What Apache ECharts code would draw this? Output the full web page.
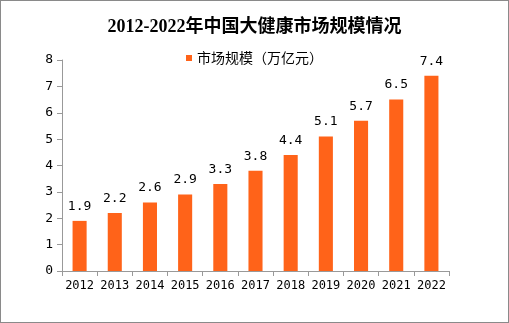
<!DOCTYPE html>
<html>
<head>
<meta charset="utf-8">
<style>
html,body{margin:0;padding:0;background:#fff;}
#c{width:509px;height:323px;box-sizing:border-box;border:1px solid #8a8a8a;}
</style>
<script src="https://cdn.jsdelivr.net/npm/echarts@6/dist/echarts.min.js"></script>
</head>
<body>
<div id="c"></div>
<script>
var categories = ['2012','2013','2014','2015','2016','2017','2018','2019','2020','2021','2022'];
var marketSize = [1.9, 2.2, 2.6, 2.9, 3.3, 3.8, 4.4, 5.1, 5.7, 6.5, 7.4];
var seriesName = '市场规模（万亿元）';
var titleText = '2012-2022年中国大健康市场规模情况';

var chart = echarts.init(document.getElementById('c'), null, {renderer:'canvas'});
chart.setOption({
  animation:false,
  backgroundColor:'#fff',
  title:{
    text:titleText, left:'center', top:12,
    textStyle:{fontFamily:'"Liberation Serif","Noto Sans CJK SC",serif', fontWeight:'bold', fontSize:18, color:'#000'}
  },
  legend:{
    data:[seriesName], left:'center', top:45,
    itemWidth:6, itemHeight:6, icon:'rect', itemGap:4,
    textStyle:{fontFamily:'"Noto Sans CJK SC",sans-serif', fontSize:14, color:'#000'}
  },
  grid:{left:61, right:59, top:59, bottom:51, containLabel:false},
  xAxis:{
    type:'category', data:categories,
    axisLine:{lineStyle:{color:'#999', width:1}},
    axisTick:{show:true, length:5, lineStyle:{color:'#999'}},
    axisLabel:{color:'#000', fontSize:12, margin:9, interval:0, fontFamily:'"DejaVu Sans Mono",monospace'}
  },
  yAxis:{
    type:'value', min:0, max:8, interval:1,
    axisLine:{show:true, lineStyle:{color:'#999', width:1}},
    axisTick:{show:true, length:5, lineStyle:{color:'#999'}},
    splitLine:{show:false},
    axisLabel:{color:'#000', fontSize:13, margin:9, fontFamily:'"DejaVu Sans Mono",monospace'}
  },
  series:[{
    name:seriesName, type:'bar', data:marketSize,
    barWidth:'40%',
    itemStyle:{color:'#FF6319'},
    label:{show:true, position:'top', distance:8, color:'#000', fontSize:13, fontFamily:'"DejaVu Sans Mono",monospace'}
  }]
});
</script>
</body>
</html>
